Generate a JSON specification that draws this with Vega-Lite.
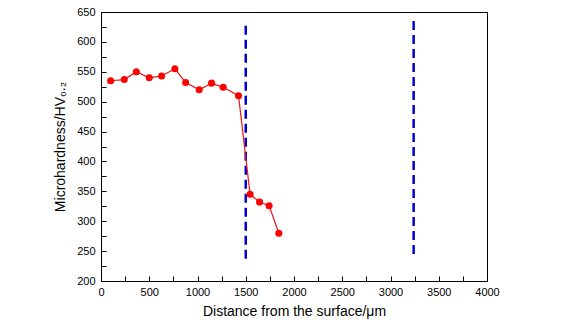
{
  "$schema": "https://vega.github.io/schema/vega-lite/v6.json",
  "width": 386,
  "height": 269,
  "autosize": {"type": "none"},
  "padding": {"left": 101, "top": 12, "right": 80, "bottom": 42},
  "background": "white",
  "config": {
    "view": {"stroke": "black", "strokeWidth": 1},
    "font": "Liberation Sans",
    "axis": {
      "domainColor": "black",
      "tickColor": "black",
      "labelColor": "black",
      "titleColor": "black",
      "labelFont": "Liberation Sans",
      "titleFont": "Liberation Sans",
      "labelFontSize": 11,
      "titleFontSize": 14,
      "titleFontWeight": "normal",
      "grid": false,
      "labelOverlap": false,
      "labelFlush": false
    }
  },
  "datasets": {
    "hardness": [
      {"distance": 100, "hv": 535},
      {"distance": 241, "hv": 537},
      {"distance": 366, "hv": 550},
      {"distance": 500, "hv": 540},
      {"distance": 628, "hv": 543},
      {"distance": 766, "hv": 555},
      {"distance": 877, "hv": 532},
      {"distance": 1018, "hv": 520},
      {"distance": 1146, "hv": 531},
      {"distance": 1266, "hv": 524},
      {"distance": 1425, "hv": 510},
      {"distance": 1545, "hv": 345},
      {"distance": 1643, "hv": 332},
      {"distance": 1742, "hv": 326},
      {"distance": 1843, "hv": 280}
    ],
    "boundaries": [
      {"x": 1500, "top": 627, "bottom": 236},
      {"x": 3240, "top": 635, "bottom": 242}
    ]
  },
  "layer": [
    {
      "data": {"name": "boundaries"},
      "mark": {"type": "rule", "color": "#0000CC", "strokeWidth": 2.5, "strokeDash": [9, 5]},
      "encoding": {
        "x": {
          "field": "x", "type": "quantitative",
          "scale": {"domain": [0, 4000], "nice": false},
          "axis": {
            "title": "Distance from the surface/μm",
            "format": "d",
            "values": [0, 250, 500, 750, 1000, 1250, 1500, 1750, 2000, 2250, 2500, 2750, 3000, 3250, 3500, 3750, 4000],
            "labelExpr": "datum.value % 500 === 0 ? datum.label : ''",
            "labelOverlap": false,
            "tickSize": -5,
            "encode": {"ticks": {"update": {"y2": {"signal": "datum.value % 500 === 0 ? -5 : -3"}}}},
            "labelPadding": 10,
            "titlePadding": 7
          }
        },
        "y": {
          "field": "top", "type": "quantitative",
          "scale": {"domain": [200, 650], "nice": false},
          "axis": {
            "title": "Microhardness/HV₀.₂",
            "format": "d",
            "values": [200, 225, 250, 275, 300, 325, 350, 375, 400, 425, 450, 475, 500, 525, 550, 575, 600, 625, 650],
            "labelExpr": "datum.value % 50 === 0 ? datum.label : ''",
            "labelOverlap": false,
            "tickSize": -5,
            "encode": {"ticks": {"update": {"x2": {"signal": "datum.value % 50 === 0 ? 5 : 3"}}}},
            "labelPadding": 11,
            "titlePadding": 9
          }
        },
        "y2": {"field": "bottom"}
      }
    },
    {
      "data": {"name": "hardness"},
      "mark": {"type": "line", "color": "#E8141B", "strokeWidth": 1.2, "point": {"filled": true, "color": "#FF0000", "size": 50, "opacity": 1}},
      "encoding": {
        "x": {
          "field": "distance", "type": "quantitative",
          "scale": {"domain": [0, 4000], "nice": false},
          "axis": {
            "title": "Distance from the surface/μm",
            "format": "d",
            "values": [0, 250, 500, 750, 1000, 1250, 1500, 1750, 2000, 2250, 2500, 2750, 3000, 3250, 3500, 3750, 4000],
            "labelExpr": "datum.value % 500 === 0 ? datum.label : ''",
            "labelOverlap": false,
            "tickSize": -5,
            "encode": {"ticks": {"update": {"y2": {"signal": "datum.value % 500 === 0 ? -5 : -3"}}}},
            "labelPadding": 10,
            "titlePadding": 7
          }
        },
        "y": {
          "field": "hv", "type": "quantitative",
          "scale": {"domain": [200, 650], "nice": false},
          "axis": {
            "title": "Microhardness/HV₀.₂",
            "format": "d",
            "values": [200, 225, 250, 275, 300, 325, 350, 375, 400, 425, 450, 475, 500, 525, 550, 575, 600, 625, 650],
            "labelExpr": "datum.value % 50 === 0 ? datum.label : ''",
            "labelOverlap": false,
            "tickSize": -5,
            "encode": {"ticks": {"update": {"x2": {"signal": "datum.value % 50 === 0 ? 5 : 3"}}}},
            "labelPadding": 11,
            "titlePadding": 9
          }
        }
      }
    }
  ]
}
